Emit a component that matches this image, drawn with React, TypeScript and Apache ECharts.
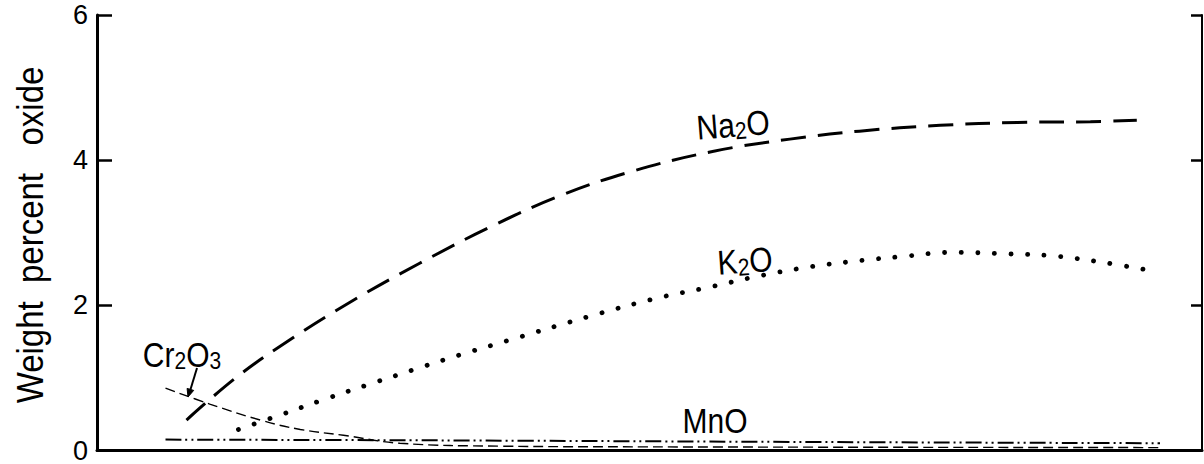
import React, { useEffect, useRef } from "react";
import * as echarts from "echarts";

// y axis ticks (weight percent oxide)
const yTicks = [0, 2, 4, 6];

// x positions are in arbitrary units 0..100 across the frame (no x labels in source)
const na2oX = [8.1, 12.8, 17.7, 23.2, 29.2, 35.6, 41.9, 48.5, 55.7, 62.7, 69.0, 76.3, 83.3, 89.9, 94.1];
const na2oY = [0.42, 1.03, 1.55, 2.07, 2.58, 3.08, 3.51, 3.85, 4.12, 4.29, 4.4, 4.48, 4.52, 4.53, 4.55];

const k2oX = [12.8, 16.6, 20.5, 24.4, 28.6, 32.9, 37.3, 44.6, 50.7, 55.4, 59.8, 64.5, 69.3, 72.7, 77.5, 82.2, 86.6, 91.1, 95.3];
const k2oY = [0.29, 0.49, 0.7, 0.9, 1.11, 1.32, 1.52, 1.85, 2.1, 2.25, 2.4, 2.53, 2.62, 2.67, 2.73, 2.71, 2.68, 2.59, 2.48];

const cr2o3X = [6.2, 10.2, 15.0, 18.4, 22.3, 27.4, 36.5, 50, 96.2];
const cr2o3Y = [0.86, 0.64, 0.41, 0.29, 0.21, 0.1, 0.06, 0.05, 0.04];

const mnoX = [6.2, 30, 60, 96.2];
const mnoY = [0.15, 0.14, 0.12, 0.1];

const FONT = '"Liberation Sans", Arial, sans-serif';

const pairs = (xs: number[], ys: number[]) => xs.map((x, i) => [x, ys[i]]);

function label(x: number, y: number, text: string, rot: number, big: number, small: number) {
  return {
    type: "text",
    x,
    y,
    rotation: rot,
    scaleY: 1.15,
    silent: true,
    style: {
      text,
      fill: "#000",
      align: "center",
      verticalAlign: "middle",
      rich: {
        a: { fontSize: big, fontFamily: FONT, lineHeight: big + 2, fill: "#000" },
        s: { fontSize: small, fontFamily: FONT, lineHeight: 14, verticalAlign: "bottom", fill: "#000" },
      },
    },
  };
}

export default function App() {
  const ref = useRef<HTMLDivElement>(null);
  useEffect(() => {
    const chart = echarts.init(ref.current!, null, { renderer: "svg" });
    const yMin = yTicks[0];
    const yMax = yTicks[yTicks.length - 1];
    const yInt = yTicks[1] - yTicks[0];
    const option: any = {
      animation: false,
      backgroundColor: "#fff",
      textStyle: { fontFamily: FONT, color: "#000" },
      grid: { left: 97, right: 2, top: 15, bottom: 11, containLabel: false },
      xAxis: {
        type: "value",
        min: 0,
        max: 100,
        axisLine: { show: true, lineStyle: { color: "#000", width: 3 } },
        axisTick: { show: false },
        axisLabel: { show: false },
        splitLine: { show: false },
      },
      yAxis: [
        {
          type: "value",
          position: "left",
          min: yMin,
          max: yMax,
          interval: yInt,
          axisLine: { show: true, lineStyle: { color: "#000", width: 3 } },
          axisTick: { show: true, inside: true, length: 15, lineStyle: { color: "#000", width: 2.5 } },
          axisLabel: {
            show: true,
            color: "#000",
            margin: 9,
            fontFamily: FONT,
            fontSize: 27,
            formatter: (v: number) => `{t|${v}}`,
            rich: { t: { fontSize: 27, fontFamily: FONT, color: "#000" } },
          },
          splitLine: { show: false },
        },
        {
          type: "value",
          position: "right",
          min: yMin,
          max: yMax,
          interval: yInt,
          axisLine: { show: true, lineStyle: { color: "#000", width: 2 } },
          axisTick: { show: true, inside: true, length: 11, lineStyle: { color: "#000", width: 2.5 } },
          axisLabel: { show: false },
          splitLine: { show: false },
        },
      ],
      series: [
        {
          name: "Na2O",
          type: "line",
          data: pairs(na2oX, na2oY),
          symbol: "none",
          smooth: 0.4,
          silent: true,
          lineStyle: { color: "#000", width: 3, type: [25, 12] },
        },
        {
          name: "K2O",
          type: "line",
          data: pairs(k2oX, k2oY),
          symbol: "none",
          smooth: 0.4,
          silent: true,
          lineStyle: { color: "#000", width: 4.8, type: [0.1, 16.5], cap: "round" },
        },
        {
          name: "Cr2O3",
          type: "line",
          data: pairs(cr2o3X, cr2o3Y),
          symbol: "none",
          smooth: 0.4,
          silent: true,
          lineStyle: { color: "#000", width: 1.4, type: [10, 5] },
        },
        {
          name: "MnO",
          type: "line",
          data: pairs(mnoX, mnoY),
          symbol: "none",
          smooth: 0.4,
          silent: true,
          lineStyle: { color: "#000", width: 2, type: [16, 4, 2, 4, 2, 4] },
        },
      ],
      graphic: [
        {
          type: "text",
          x: 30,
          y: 235,
          rotation: Math.PI / 2,
          scaleY: 1.12,
          silent: true,
          style: {
            text: "Weight  percent   oxide",
            font: `33px ${FONT}`,
            fill: "#000",
            align: "center",
            verticalAlign: "middle",
          },
        },
        label(733, 125, "{a|Na}{s|2}{a|O}", 0.08, 30, 21),
        label(745, 261, "{a|K}{s|2}{a|O}", 0.07, 30, 21),
        label(715, 421, "{a|MnO}", 0, 30, 21),
        label(182, 355, "{a|Cr}{s|2}{a|O}{s|3}", 0, 30, 21),
        {
          type: "line",
          silent: true,
          shape: { x1: 197, y1: 368, x2: 190, y2: 391 },
          style: { stroke: "#000", lineWidth: 2 },
        },
        {
          type: "polygon",
          silent: true,
          shape: { points: [[188, 397], [193.7, 390.4], [187.1, 388.4]] },
          style: { fill: "#000", stroke: "#000", lineWidth: 1 },
        },
      ],
    };
    chart.setOption(option);
    return () => chart.dispose();
  }, []);
  return (
    <div
      ref={ref}
      style={{ position: "absolute", left: 0, top: 0, width: 1204, height: 464, background: "#fff" }}
    />
  );
}
